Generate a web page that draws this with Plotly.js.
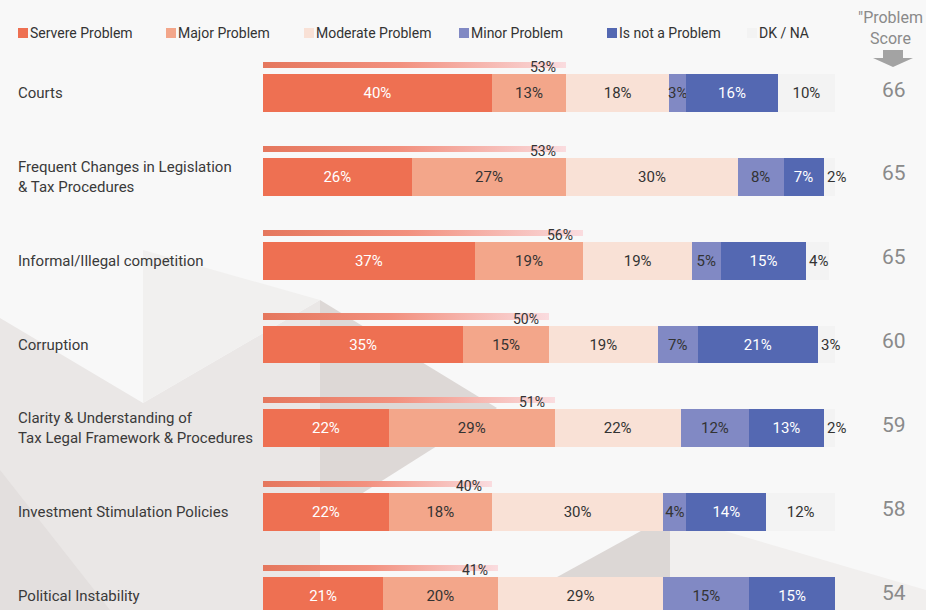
<!DOCTYPE html>
<html>
<head>
<meta charset="utf-8">
<script src="https://cdn.plot.ly/plotly-3.0.1.min.js"></script>
<style>
html,body{margin:0;padding:0;background:#F8F8F8;}
#chart{width:926px;height:610px;}
</style>
</head>
<body>
<div id="chart"></div>
<script>
// ---- data ----
var categories = [
  "Courts",
  "Frequent Changes in Legislation<br>& Tax Procedures",
  "Informal/Illegal competition",
  "Corruption",
  "Clarity & Understanding of<br>Tax Legal Framework & Procedures",
  "Investment Stimulation Policies",
  "Political Instability"
];
var seriesNames = ["Servere Problem", "Major Problem", "Moderate Problem", "Minor Problem", "Is not a Problem", "DK / NA"];
var severe   = [40, 26, 37, 35, 22, 22, 21];
var major    = [13, 27, 19, 15, 29, 18, 20];
var moderate = [18, 30, 19, 19, 22, 30, 29];
var minor    = [3, 8, 5, 7, 12, 4, 15];
var notProb  = [16, 7, 15, 21, 13, 14, 15];
var dkna     = [10, 2, 4, 3, 2, 12, 0];
var problemScore = [66, 65, 65, 60, 59, 58, 54];

// ---- style ----
var colors = ["#EE7052", "#F3A68A", "#F9E1D6", "#8189C4", "#5468B2", "#F3F3F3"];
var textColors = ["#ffffff", "#333333", "#333333", "#333333", "#ffffff", "#333333"];
var W = 926, H = 610, L = 263, R = 91;
function px(x){ return (x - L) / (W - L - R); }
function py(y){ return 1 - y / H; }

var series = [severe, major, moderate, minor, notProb, dkna];
var rows = categories.map(function(_, i){ return i; });
var font = "Roboto, 'Open Sans', sans-serif";
var lastIdx = series.length - 1;

var traces = series.map(function(vals, k){
  return {
    type: "bar", orientation: "h",
    x: vals, y: rows, name: seriesNames[k],
    width: 0.453,
    marker: {color: colors[k], line: {width: 0}},
    text: vals.map(function(v){ return (v > 0 && (k < lastIdx || v >= 5)) ? v + "%" : ""; }),
    textposition: "inside", insidetextanchor: "middle",
    textangle: 0, constraintext: "none",
    textfont: {family: font, size: 15, color: textColors[k]},
    hoverinfo: "skip", showlegend: false
  };
});

var topTwo = severe.map(function(v, i){ return v + major[i]; });
traces.push({
  type: "bar", orientation: "h",
  x: topTwo, y: rows.map(function(r){ return r - 0.334; }),
  width: 0.072, yaxis: "y2",
  marker: {color: "#F0907C", line: {width: 0}},
  hoverinfo: "skip", showlegend: false
});

var annotations = [];
categories.forEach(function(c, i){
  annotations.push({
    xref: "paper", yref: "y", x: px(16), y: i, xanchor: "left", yanchor: "middle",
    text: c, showarrow: false, align: "left",
    font: {family: font, size: 15, color: "#3a3a3a"}
  });
  annotations.push({
    xref: "x", yref: "y", x: topTwo[i], y: i - 0.31, xanchor: "right", yanchor: "middle",
    xshift: -8, text: topTwo[i] + "%", showarrow: false,
    font: {family: font, size: 14, color: "#333333"}
  });
  annotations.push({
    xref: "paper", yref: "y", x: px(894), y: i - 0.04, xanchor: "center", yanchor: "middle",
    text: String(problemScore[i]), showarrow: false,
    font: {family: font, size: 21, color: "#8a8a8a"}
  });
  // narrow DK/NA segments: label placed just after the segment start
  var dk = dkna[i];
  if (dk > 0 && dk < 5) {
    var start = severe[i] + major[i] + moderate[i] + minor[i] + notProb[i];
    annotations.push({
      xref: "x", yref: "y", x: start, y: i, xanchor: "left", yanchor: "middle",
      xshift: 1, text: dk + "%", showarrow: false,
      font: {family: font, size: 15, color: "#333333"}
    });
  }
});

// legend (custom)
var legX = [18, 166, 304, 459, 607, 747];
var shapes = [];
// background geometry
var bg = [
  {pts: [[0,318],[143,403],[320,300],[320,610],[0,610]], c: "#EAE7E6"},
  {pts: [[0,470],[110,610],[0,610]], c: "#E3DFDE"},
  {pts: [[320,300],[497,408],[320,520]], c: "#DDD8D6"},
  {pts: [[143,250],[320,300],[143,403]], c: "#F1F0EF"},
  {pts: [[497,610],[670,515],[670,610]], c: "#DCD7D5"},
  {pts: [[670,515],[926,590],[926,610],[670,610]], c: "#F1EFEE"}
];
bg.forEach(function(p){
  var d = p.pts.map(function(q, j){ return (j ? "L" : "M") + px(q[0]) + "," + py(q[1]); }).join(" ") + " Z";
  shapes.push({type: "path", xref: "paper", yref: "paper", path: d, fillcolor: p.c, line: {width: 0}, layer: "below"});
});
seriesNames.forEach(function(n, k){
  shapes.push({type: "rect", xref: "paper", yref: "paper",
    x0: px(legX[k]), x1: px(legX[k] + 10), y0: py(38), y1: py(28),
    fillcolor: colors[k], line: {width: 0}});
  annotations.push({xref: "paper", yref: "paper", x: px(legX[k] + 10), y: py(33),
    xanchor: "left", yanchor: "middle", text: n, showarrow: false,
    font: {family: font, size: 14, color: "#333333"}});
});
// score header + arrow
annotations.push({xref: "paper", yref: "paper", x: px(890), y: py(28), xanchor: "center", yanchor: "middle",
  text: "\"Problem<br>Score", showarrow: false, font: {family: font, size: 16, color: "#8a8a8a"}});
var arrow = [[883,50],[903,50],[903,58],[913,58],[893,67],[873,58],[883,58]];
shapes.push({type: "path", xref: "paper", yref: "paper",
  path: arrow.map(function(q, j){ return (j ? "L" : "M") + px(q[0]) + "," + py(q[1]); }).join(" ") + " Z",
  fillcolor: "#A3A3A3", line: {width: 0}});

var yr = [6 + (H - 596) / 83.83, -93 / 83.83];
var layout = {
  width: W, height: H,
  margin: {l: L, r: R, t: 0, b: 0, pad: 0},
  paper_bgcolor: "#F8F8F8", plot_bgcolor: "rgba(0,0,0,0)",
  barmode: "stack", bargap: 0,
  xaxis: {range: [0, 100], visible: false, fixedrange: true},
  yaxis: {range: yr, visible: false, fixedrange: true},
  yaxis2: {range: yr, visible: false, overlaying: "y", fixedrange: true},
  annotations: annotations, shapes: shapes,
  font: {family: font}, showlegend: false
};

Plotly.newPlot("chart", traces, layout, {displayModeBar: false, staticPlot: true}).then(function(gd){
  var svg = gd.querySelector("svg.main-svg");
  var ns = "http://www.w3.org/2000/svg";
  var defs = document.createElementNS(ns, "defs");
  var g = document.createElementNS(ns, "linearGradient");
  g.setAttribute("id", "thinGrad");
  g.setAttribute("x1", "0"); g.setAttribute("x2", "1"); g.setAttribute("y1", "0"); g.setAttribute("y2", "0");
  [["0", "#E5775D"], ["0.45", "#F2907E"], ["1", "#FADCDF"]].forEach(function(s){
    var st = document.createElementNS(ns, "stop");
    st.setAttribute("offset", s[0]); st.setAttribute("stop-color", s[1]);
    g.appendChild(st);
  });
  defs.appendChild(g); svg.insertBefore(defs, svg.firstChild);
  gd.querySelectorAll(".xy2 .barlayer .point path").forEach(function(p){ p.style.fill = "url(#thinGrad)"; });
});
</script>
</body>
</html>
